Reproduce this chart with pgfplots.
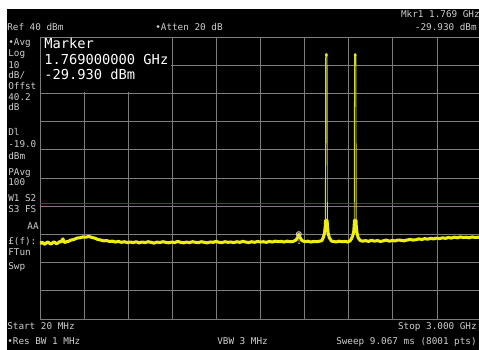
\documentclass[border=0pt]{standalone}
\usepackage{pgfplots}
\pgfplotsset{compat=1.18}
\usetikzlibrary{calc}
\usepackage{fontspec}
\setmonofont{DejaVu Sans Mono}
\definecolor{txt}{RGB}{205,205,205}
\definecolor{gridc}{RGB}{125,125,125}
\definecolor{trace}{RGB}{238,238,20}
\definecolor{peakc}{RGB}{215,215,40}
\definecolor{dl}{RGB}{10,110,10}
\pgfdeclarelayer{bg}
\pgfsetlayers{bg,main}
\begin{document}
\begin{tikzpicture}[x=0.75pt,y=0.75pt,font=\ttfamily\fontsize{7}{8}\selectfont]
\begin{axis}[scale only axis,
  width=330.75pt, height=211.5pt,
  xmin=20, xmax=3000, ymin=-60, ymax=40,
  xtick={20,318,616,914,1212,1510,1808,2106,2404,2702,3000},
  ytick={-60,-50,-40,-30,-20,-10,0,10,20,30,40},
  xticklabels={}, yticklabels={},
  major tick length=0pt,
  grid=major, major grid style={gridc, line width=0.6pt},
  axis line style={gridc, line width=0.6pt},
  clip=true]
\coordinate (O) at (rel axis cs:0,0);
\addplot[dl, line width=1.1pt] coordinates {(20,-19) (3000,-19)};
% noise floor trace
\addplot[trace, line width=2.3pt, line join=round] coordinates {
(20,-33.4) (30,-32.8) (40,-33.0) (50,-33.5) (60,-33.2) (70,-32.7) (80,-32.9) (90,-33.4) (100,-33.3) (110,-32.7) (120,-32.8) (130,-33.3) (140,-33.1) (150,-32.6) (160,-32.7) (175,-31.6) (185,-32.9)
(200,-32.6) (215,-32.4) (230,-32.0) (250,-31.8) (270,-31.3) (290,-31.2) (310,-30.9) (330,-31.0) (350,-30.7) (370,-31.1)
(390,-31.3) (410,-31.8) (430,-32.0) (450,-32.3) (470,-32.2) (490,-32.5) (510,-32.4) (530,-32.7) (550,-32.5) (570,-32.8)
(590,-32.6) (610,-32.9) (630,-32.7) (650,-32.9) (670,-32.6) (690,-33.0) (710,-32.7) (730,-32.9) (750,-32.6) (770,-32.8)
(790,-33.1) (810,-32.7) (830,-32.9) (850,-32.6) (870,-32.8) (890,-33.0) (910,-32.7) (930,-32.9) (950,-32.5) (970,-32.8)
(990,-33.0) (1010,-32.7) (1030,-32.9) (1050,-32.6) (1070,-32.8) (1090,-32.9) (1110,-32.6) (1130,-32.8) (1150,-33.0) (1170,-32.7)
(1190,-32.8) (1210,-32.5) (1230,-32.8) (1250,-32.9) (1270,-32.6) (1290,-32.8) (1310,-32.7) (1330,-32.9) (1350,-32.6) (1370,-32.8)
(1390,-32.5) (1410,-32.7) (1430,-32.9) (1450,-32.6) (1470,-32.8) (1490,-32.5) (1510,-32.7) (1530,-32.6) (1550,-32.8) (1570,-32.5)
(1590,-32.7) (1610,-32.4) (1630,-32.6) (1650,-32.5) (1670,-32.7) (1690,-32.4) (1710,-32.6) (1730,-32.5) (1750,-32.0) (1762,-31.0)
(1769,-29.93) (1776,-31.0) (1790,-32.2) (1810,-32.6) (1830,-32.4) (1850,-32.7) (1870,-32.5) (1890,-32.6) (1910,-32.4) (1925,-32.2)
(1935,-31.0) (1943,-29.5) (1948,-27.0) (1950,-25.0) (1960,-25.0) (1962,-27.0) (1967,-29.5) (1975,-31.2) (1990,-32.4) (2005,-32.5)
(2020,-32.7) (2040,-32.4) (2060,-32.6) (2080,-32.5) (2100,-32.7) (2115,-32.3) (2125,-31.5) (2133,-30.5) (2140,-29.0) (2143,-27.0)
(2145,-25.0) (2155,-25.0) (2157,-27.0) (2162,-29.5) (2170,-31.2) (2185,-32.2) (2200,-32.4) (2220,-32.2) (2240,-32.5) (2260,-32.1)
(2280,-32.4) (2300,-32.2) (2320,-32.5) (2340,-32.3) (2360,-32.0) (2380,-32.4) (2400,-32.2) (2420,-32.3) (2440,-32.0) (2460,-32.1)
(2480,-32.3) (2500,-32.0) (2520,-31.8) (2540,-32.0) (2560,-31.9) (2580,-31.6) (2600,-31.8) (2620,-31.5) (2640,-31.7) (2660,-31.4)
(2680,-31.6) (2700,-31.3) (2720,-31.5) (2740,-31.2) (2760,-31.4) (2780,-31.1) (2800,-31.3) (2820,-31.0) (2840,-31.2) (2860,-30.9)
(2880,-31.1) (2900,-31.0) (2920,-31.2) (2940,-30.9) (2960,-31.1) (2980,-31.0) (3000,-31.1)
};
% carrier peaks
\addplot[peakc, line width=0.7pt] coordinates {(1948.5,-25) (1950.5,32.5) (1952,34) (1958,34) (1959.5,32.5) (1961.5,-25)};
\addplot[peakc, line width=0.7pt] coordinates {(2143.5,-25) (2145.5,32.5) (2147,34) (2153,34) (2154.5,32.5) (2156.5,-25)};
\addplot[only marks, mark=*, mark size=0.9pt, trace] coordinates {(1955,33.6) (2150,33.6)};
% marker 1
\addplot[only marks, mark=o, mark size=1.9pt, mark options={line width=0.7pt}, txt,
  nodes near coords={1}, nodes near coords style={font=\ttfamily\fontsize{4.5}{5}\selectfont, txt, yshift=-0.5pt}]
  coordinates {(1769,-29.93)};
\end{axis}
\begin{scope}[shift={($(O)-(40,31)$)}]
\begin{pgfonlayer}{bg}
\fill[white] (0,0) rectangle (479,350);
\fill[black] (7,0) rectangle (479,341);
\end{pgfonlayer}
\fill[black] (41,258) rectangle (170.5,312);
% top texts
\begin{scope}[txt]
\node[anchor=mid west, inner sep=0pt] at (7,322) {Ref 40 dBm};
\node[anchor=mid west, inner sep=0pt] at (155,322) {•Atten 20 dB};
\node[anchor=mid east, inner sep=0pt] at (480,335) {Mkr1  1.769 GHz};
\node[anchor=mid east, inner sep=0pt] at (477,322) {-29.930 dBm};
% left column
\node[anchor=mid west, inner sep=0pt] at (8,307) {•Avg};
\node[anchor=mid west, inner sep=0pt] at (8,296) {Log};
\node[anchor=mid west, inner sep=0pt] at (8,284) {10};
\node[anchor=mid west, inner sep=0pt] at (8,274) {dB/};
\node[anchor=mid west, inner sep=0pt] at (8,263) {Offst};
\node[anchor=mid west, inner sep=0pt] at (8,252) {40.2};
\node[anchor=mid west, inner sep=0pt] at (8,242) {dB};
\node[anchor=mid west, inner sep=0pt] at (8,217) {Dl};
\node[anchor=mid west, inner sep=0pt] at (8,205) {-19.0};
\node[anchor=mid west, inner sep=0pt] at (8,193) {dBm};
\node[anchor=mid west, inner sep=0pt] at (8,177) {PAvg};
\node[anchor=mid west, inner sep=0pt] at (8,167) {100};
\node[anchor=mid west, inner sep=0pt] at (8,151) {W1 S2};
\node[anchor=mid west, inner sep=0pt] at (8,140) {S3 FS};
\node[anchor=mid east, inner sep=0pt] at (39,123) {AA};
\node[anchor=mid west, inner sep=0pt] at (8,108) {£(f):};
\node[anchor=mid west, inner sep=0pt] at (8,97) {FTun};
\node[anchor=mid west, inner sep=0pt] at (8,83) {Swp};
% bottom
\node[anchor=mid west, inner sep=0pt] at (7,23) {Start 20 MHz};
\node[anchor=mid east, inner sep=0pt] at (477,23) {Stop 3.000 GHz};
\node[anchor=mid west, inner sep=0pt] at (7,8) {•Res BW 1 MHz};
\node[anchor=mid west, inner sep=0pt] at (217,8) {VBW 3 MHz};
\node[anchor=mid east, inner sep=0pt] at (477,8) {Sweep 9.067 ms (8001 pts)};
\end{scope}
% marker box text
\begin{scope}[white, font=\ttfamily\fontsize{10.3}{12}\selectfont]
\node[anchor=mid west, inner sep=0pt] at (44,304) {Marker};
\node[anchor=mid west, inner sep=0pt] at (44,288) {1.769000000 GHz};
\node[anchor=mid west, inner sep=0pt] at (44,273) {-29.930 dBm};
\end{scope}
\end{scope}
\pgfresetboundingbox
\path[use as bounding box] ($(O)-(40,31)$) rectangle ($(O)+(439,319)$);
\end{tikzpicture}
\end{document}
